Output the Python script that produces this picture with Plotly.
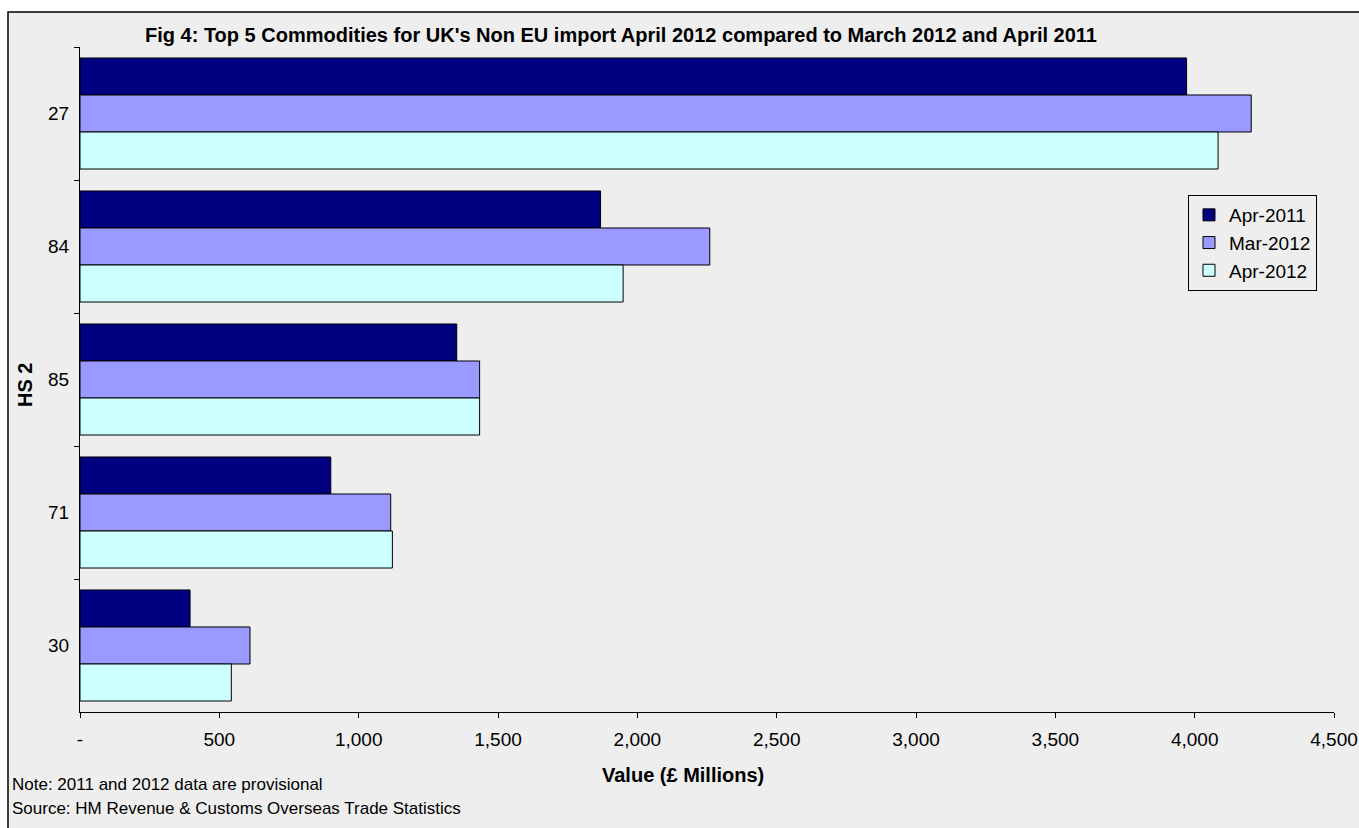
import plotly.graph_objects as go

categories = ["27", "84", "85", "71", "30"]
series_names = ["Apr-2011", "Mar-2012", "Apr-2012"]
apr_2011 = [3971, 1868, 1352, 900, 395]
mar_2012 = [4203, 2260, 1434, 1115, 610]
apr_2012 = [4084, 1949, 1434, 1121, 543]
x_tick_values = [0, 500, 1000, 1500, 2000, 2500, 3000, 3500, 4000, 4500]
x_tick_labels = ["-", "500", "1,000", "1,500", "2,000", "2,500", "3,000", "3,500", "4,000", "4,500"]

colors = ["#000080", "#9999FF", "#CCFFFF"]
W, H = 1359, 828
L, R, T, B = 80, 25, 47, 116
PW, PH = W - L - R, H - T - B
BG = "#eeeeee"
FONT = "Liberation Sans, Arial, sans-serif"


def px(xp):
    return (xp - L) / PW


def py(yp):
    return (H - B - yp) / PH


fig = go.Figure()
for name, vals, col in zip(series_names, [apr_2011, mar_2012, apr_2012], colors):
    fig.add_trace(go.Bar(
        y=categories, x=vals, name=name, orientation="h",
        marker=dict(color=col, line=dict(color="black", width=1)),
    ))

fig.update_layout(
    width=W, height=H, autosize=False,
    margin=dict(l=L, r=R, t=T, b=B, autoexpand=False),
    paper_bgcolor="white", plot_bgcolor="rgba(0,0,0,0)",
    barmode="group", bargap=0.165, bargroupgap=0,
    font=dict(family=FONT, size=19, color="black"),
    title=dict(
        text="<b>Fig 4: Top 5 Commodities for UK's Non EU import April 2012 compared to March 2012 and April 2011</b>",
        x=621 / W, xanchor="center", xref="container",
        y=1 - 35 / H, yanchor="middle", yref="container",
        font=dict(size=20, family=FONT, color="black"),
    ),
    xaxis=dict(
        range=[0, 4500], tickvals=x_tick_values, ticktext=x_tick_labels,
        showline=True, linecolor="black", linewidth=1,
        ticks="outside", ticklen=5, tickcolor="black",
        showgrid=False, zeroline=False, ticklabelstandoff=5,
        tickfont=dict(size=19), automargin=False,
    ),
    yaxis=dict(
        type="category", categoryorder="array", categoryarray=categories,
        autorange="reversed",
        showline=True, linecolor="black", linewidth=1,
        ticks="outside", ticklen=5, tickcolor="black", tickson="boundaries",
        showgrid=False, zeroline=False, ticklabelstandoff=6,
        tickfont=dict(size=19), automargin=False,
    ),
    legend=dict(
        x=px(1188), y=py(195), xanchor="left", yanchor="top",
        bgcolor=BG, bordercolor="black", borderwidth=1,
        font=dict(size=19), traceorder="normal", tracegroupgap=0,
    ),
    showlegend=True,
)

annotations = [
    dict(text="<b>HS 2</b>", x=px(25), y=py(385), textangle=-90, font=dict(size=20)),
    dict(text="<b>Value (£ Millions)</b>", x=px(683), y=py(775), font=dict(size=20)),
    dict(text="Note: 2011 and 2012 data are provisional", x=px(10), y=py(784), xanchor="left", font=dict(size=17)),
    dict(text="Source: HM Revenue &amp; Customs Overseas Trade Statistics", x=px(10), y=py(808), xanchor="left", font=dict(size=17)),
]
for a in annotations:
    a.setdefault("xanchor", "center")
    fig.add_annotation(xref="paper", yref="paper", showarrow=False, yanchor="middle", **a)

fig.add_shape(type="rect", xref="paper", yref="paper",
              x0=px(8), x1=px(1420), y0=py(12), y1=py(900),
              line=dict(width=0), fillcolor=BG, layer="below")
fig.add_shape(type="rect", xref="paper", yref="paper",
              x0=px(8), x1=px(1420), y0=py(12), y1=py(900),
              line=dict(color="black", width=1.5), fillcolor="rgba(0,0,0,0)", layer="above")

fig.write_html("out.html", config={"displayModeBar": False},
               post_script="document.body.style.margin='0px';")
